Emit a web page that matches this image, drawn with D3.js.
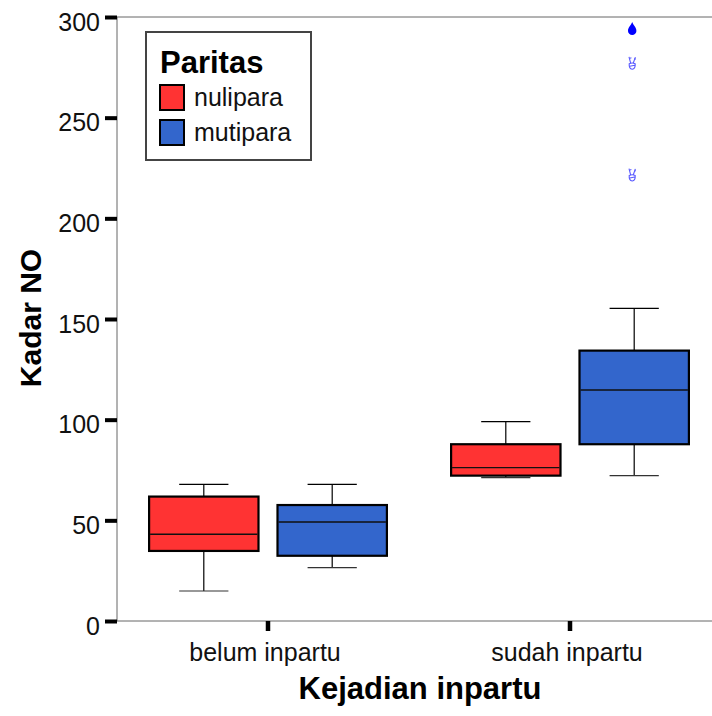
<!DOCTYPE html>
<html>
<head>
<meta charset="utf-8">
<script src="https://cdn.jsdelivr.net/npm/d3@7"></script>
<style>
  body { margin: 0; background: #fff; }
  svg { display: block; font-family: "Liberation Sans", Arial, sans-serif; }
</style>
</head>
<body>
<div id="chart"></div>
<script>
// data
var categories = ["belum inpartu", "sudah inpartu"];
var groups = ["nulipara", "mutipara"];
var colors = ["#ff3333", "#3366cc"];
// [lower whisker, q1, median, q3, upper whisker] per category
var nuliparaStats = [[14.9, 34.8, 43.1, 61.8, 67.9], [71.2, 72.2, 76.2, 87.8, 99.0]];
var mutiparaStats = [[26.5, 32.4, 49.2, 57.6, 67.9], [72.2, 87.8, 114.7, 134.3, 155.3]];
var yTicks = [0, 50, 100, 150, 200, 250, 300];
// outliers (mutipara, sudah inpartu)
var outlierValues = [277, 221.5];
var extremeValues = [294];

var W = 712, H = 716;
var plotLeft = 117, plotTop = 17, plotBottom = 621, plotRight = 721;

var svg = d3.select("#chart").append("svg")
    .attr("width", W)
    .attr("height", H);

var y = d3.scaleLinear().domain([0, 300]).range([plotBottom, plotTop]);
var x0 = d3.scaleBand().domain(categories).range([plotLeft, plotRight]);
var x1 = d3.scaleBand().domain(groups).range([0, x0.bandwidth()])
    .paddingInner(0.148).paddingOuter(0.25);
var z = d3.scaleOrdinal().domain(groups).range(colors);

// frame
svg.append("line").attr("x1", plotLeft).attr("x2", W).attr("y1", plotTop).attr("y2", plotTop)
    .attr("stroke", "#666").attr("stroke-width", 1);
svg.append("line").attr("x1", plotLeft).attr("x2", W).attr("y1", plotBottom).attr("y2", plotBottom)
    .attr("stroke", "#666").attr("stroke-width", 1);
svg.append("line").attr("x1", plotLeft).attr("x2", plotLeft).attr("y1", plotTop).attr("y2", plotBottom)
    .attr("stroke", "#666").attr("stroke-width", 1);

// y axis
var gy = svg.append("g")
    .attr("transform", "translate(" + plotLeft + ",0)")
    .call(d3.axisLeft(y).tickValues(yTicks).tickSize(12).tickPadding(5));
gy.select(".domain").remove();
gy.selectAll(".tick line").attr("stroke", "#000").attr("stroke-width", 4);
gy.selectAll(".tick text")
    .attr("font-size", 25)
    .attr("font-family", "Liberation Sans, Arial, sans-serif")
    .attr("fill", "#111")
    .attr("dy", 13);

// x axis
var gx = svg.append("g")
    .attr("transform", "translate(0," + plotBottom + ")")
    .call(d3.axisBottom(x0).tickSize(10).tickPadding(20));
gx.select(".domain").remove();
gx.selectAll(".tick line").attr("stroke", "#000").attr("stroke-width", 4.5);
gx.selectAll(".tick text")
    .attr("font-size", 25)
    .attr("font-family", "Liberation Sans, Arial, sans-serif")
    .attr("fill", "#111")
    .attr("dy", 0)
    .attr("y", 39.5)
    .attr("x", -3);

// boxes
var statsByGroup = {nulipara: nuliparaStats, mutipara: mutiparaStats};
var boxData = [];
categories.forEach(function (c, ci) {
    groups.forEach(function (g) {
        var s = statsByGroup[g][ci];
        boxData.push({cat: c, group: g, lo: s[0], q1: s[1], med: s[2], q3: s[3], hi: s[4]});
    });
});

var bw = x1.bandwidth();
var capW = bw * 0.45;

var box = svg.append("g").selectAll("g")
    .data(boxData)
    .enter().append("g")
    .attr("transform", function (d) { return "translate(" + (x0(d.cat) + x1(d.group)) + ",0)"; });

// whisker stems
box.append("line")
    .attr("x1", bw / 2).attr("x2", bw / 2)
    .attr("y1", function (d) { return y(d.hi); })
    .attr("y2", function (d) { return y(d.q3); })
    .attr("stroke", "#000").attr("stroke-width", 1.2);
box.append("line")
    .attr("x1", bw / 2).attr("x2", bw / 2)
    .attr("y1", function (d) { return y(d.q1); })
    .attr("y2", function (d) { return y(d.lo); })
    .attr("stroke", "#000").attr("stroke-width", 1.2);
// caps
box.append("line")
    .attr("x1", (bw - capW) / 2).attr("x2", (bw + capW) / 2)
    .attr("y1", function (d) { return y(d.hi); })
    .attr("y2", function (d) { return y(d.hi); })
    .attr("stroke", "#000").attr("stroke-width", 1.2);
box.append("line")
    .attr("x1", (bw - capW) / 2).attr("x2", (bw + capW) / 2)
    .attr("y1", function (d) { return y(d.lo); })
    .attr("y2", function (d) { return y(d.lo); })
    .attr("stroke", "#333").attr("stroke-width", 1.2);
// box
box.append("rect")
    .attr("x", 0)
    .attr("width", bw)
    .attr("y", function (d) { return y(d.q3); })
    .attr("height", function (d) { return y(d.q1) - y(d.q3); })
    .attr("fill", function (d) { return z(d.group); })
    .attr("stroke", "#000")
    .attr("stroke-width", 2.2);
// median
box.append("line")
    .attr("x1", 1).attr("x2", bw - 1)
    .attr("y1", function (d) { return y(d.med); })
    .attr("y2", function (d) { return y(d.med); })
    .attr("stroke", "#111").attr("stroke-width", 1.4);

// outliers on mutipara / sudah inpartu
var ox = x0(categories[1]) + x1("mutipara") + bw / 2 - 2;
svg.append("g").selectAll("path")
    .data(extremeValues)
    .enter().append("path")
    .attr("transform", function (d) { return "translate(" + ox + "," + y(d) + ")"; })
    .attr("d", "M0,-7 C1,-4 4.2,-1.5 4.2,1.8 A4.2,4.2 0 0 1 -4.2,1.8 C-4.2,-1.5 -1,-4 0,-7 Z")
    .attr("fill", "#0000ff");
// small "victory hand" glyph drawn as a path
var hand = svg.append("g").selectAll("g")
    .data(outlierValues)
    .enter().append("g")
    .attr("transform", function (d) { return "translate(" + ox + "," + y(d) + ")"; })
    .attr("fill", "none")
    .attr("stroke", "#5a5aff")
    .attr("stroke-width", 1.1);
hand.append("path").attr("d", "M-1.5,0 L-3.2,-6.5 M1,0 L3.2,-6.2 M-2.2,-5 L-0.8,-5.5 M2,-4.8 L3.6,-4");
hand.append("path").attr("d", "M-3,0.5 Q-3.4,5.5 0,6 Q3.4,5.5 3,0.5 Q0,-1 -3,0.5 Z M-2.5,3 L2.5,2");

// legend
var lg = svg.append("g");
lg.append("rect")
    .attr("x", 146).attr("y", 32).attr("width", 165).attr("height", 128)
    .attr("fill", "#fff").attr("stroke", "#444").attr("stroke-width", 2);
lg.append("text")
    .attr("x", 160).attr("y", 73)
    .attr("font-size", 31).attr("font-weight", "bold").attr("fill", "#000")
    .text("Paritas");
var li = lg.selectAll("g.item")
    .data(groups)
    .enter().append("g")
    .attr("class", "item")
    .attr("transform", function (d, i) { return "translate(160," + (85 + i * 35) + ")"; });
li.append("rect")
    .attr("width", 24).attr("height", 25)
    .attr("fill", z)
    .attr("stroke", "#000").attr("stroke-width", 2);
li.append("text")
    .attr("x", 34).attr("y", 21)
    .attr("font-size", 25).attr("fill", "#111")
    .text(function (d) { return d; });

// axis titles
svg.append("text")
    .attr("x", 420).attr("y", 699)
    .attr("text-anchor", "middle")
    .attr("font-size", 31).attr("font-weight", "bold").attr("fill", "#000")
    .text("Kejadian inpartu");
svg.append("text")
    .attr("transform", "translate(41,318) rotate(-90)")
    .attr("text-anchor", "middle")
    .attr("font-size", 30).attr("font-weight", "bold").attr("fill", "#000")
    .text("Kadar NO");
</script>
</body>
</html>
